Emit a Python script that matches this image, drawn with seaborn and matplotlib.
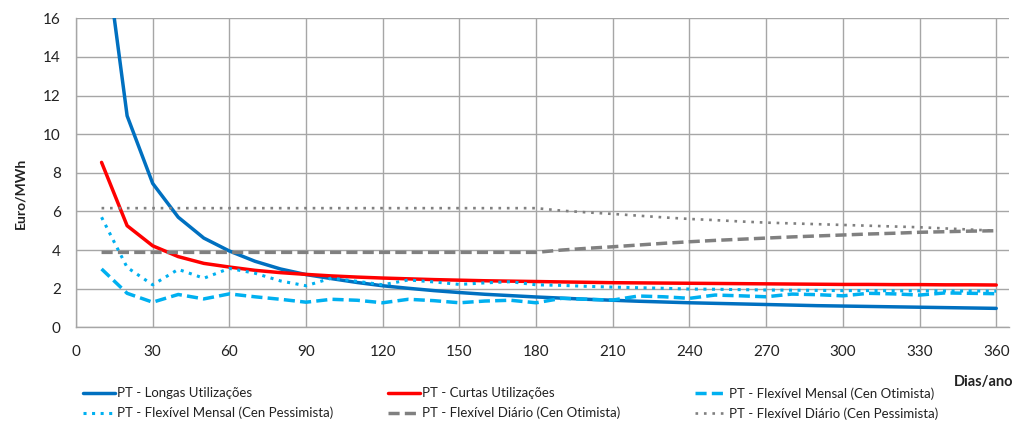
import numpy as np
import pandas as pd
import seaborn as sns
import matplotlib
matplotlib.use("Agg")
import matplotlib.pyplot as plt
from matplotlib.lines import Line2D

# days per year (x categories)
days = [10, 20, 30, 40, 50, 60, 70, 80, 90, 100, 110, 120,
        130, 140, 150, 160, 170, 180, 190, 200, 210, 220, 230, 240,
        250, 260, 270, 280, 290, 300, 310, 320, 330, 340, 350, 360]

longas = [21.0, 10.95, 7.45, 5.70, 4.62, 3.95, 3.42, 3.02, 2.73, 2.52, 2.32, 2.15,
          2.02, 1.90, 1.80, 1.71, 1.64, 1.57, 1.51, 1.45, 1.40, 1.35, 1.31, 1.27,
          1.24, 1.21, 1.18, 1.15, 1.12, 1.10, 1.08, 1.06, 1.04, 1.02, 1.00, 0.98]

curtas = [8.54, 5.26, 4.22, 3.66, 3.31, 3.12, 2.95, 2.83, 2.74, 2.66, 2.60, 2.55,
          2.51, 2.47, 2.44, 2.41, 2.39, 2.37, 2.35, 2.33, 2.31, 2.30, 2.29, 2.28,
          2.27, 2.26, 2.25, 2.24, 2.23, 2.22, 2.22, 2.21, 2.21, 2.20, 2.20, 2.19]

mensal_otim = [3.02, 1.76, 1.30, 1.70, 1.47, 1.73, 1.58, 1.45, 1.30, 1.45, 1.40, 1.27,
               1.45, 1.38, 1.27, 1.36, 1.40, 1.27, 1.50, 1.45, 1.41, 1.62, 1.58, 1.50,
               1.67, 1.63, 1.58, 1.72, 1.69, 1.63, 1.76, 1.73, 1.67, 1.78, 1.76, 1.74]

mensal_pess = [5.70, 3.10, 2.20, 3.00, 2.54, 3.05, 2.80, 2.40, 2.15, 2.55, 2.38, 2.20,
               2.45, 2.35, 2.22, 2.30, 2.36, 2.20, 2.17, 2.12, 2.08, 2.05, 2.02, 1.98,
               1.97, 1.95, 1.93, 1.92, 1.91, 1.90, 1.90, 1.89, 1.89, 1.88, 1.88, 1.87]

diario_otim = [3.88, 3.88, 3.88, 3.88, 3.88, 3.88, 3.88, 3.88, 3.88, 3.88, 3.88, 3.88,
               3.88, 3.88, 3.88, 3.88, 3.88, 3.88, 4.00, 4.09, 4.17, 4.26, 4.35, 4.43,
               4.50, 4.56, 4.62, 4.68, 4.73, 4.78, 4.83, 4.87, 4.92, 4.95, 4.98, 5.00]

diario_pess = [6.17, 6.17, 6.17, 6.17, 6.17, 6.17, 6.17, 6.17, 6.17, 6.17, 6.17, 6.17,
               6.17, 6.17, 6.17, 6.17, 6.17, 6.17, 6.04, 5.95, 5.87, 5.78, 5.69, 5.61,
               5.55, 5.48, 5.42, 5.38, 5.34, 5.30, 5.26, 5.22, 5.18, 5.12, 5.06, 5.00]

labels = ["PT - Longas Utilizações",
          "PT - Curtas Utilizações",
          "PT - Flexível Mensal (Cen Otimista)",
          "PT - Flexível Mensal (Cen Pessimista)",
          "PT - Flexível Diário (Cen Otimista)",
          "PT - Flexível Diário (Cen Pessimista)"]

series = [longas, curtas, mensal_otim, mensal_pess, diario_otim, diario_pess]

sns.set_style("white")
plt.rcParams["font.family"] = ["Lato", "DejaVu Sans"]

# line styles per series: (color, linestyle, width)
styles = [
    ("#0070C0", "-", 2.5),
    ("#FF0000", "-", 2.5),
    ("#00B0F0", (0, (3.2, 1.5)), 2.5),
    ("#00B0F0", (0, (1, 1.8)), 2.2),
    ("#808080", (0, (3.2, 1.5)), 2.5),
    ("#808080", (0, (1, 2.2)), 1.9),
]

fig = plt.figure(figsize=(10.19, 4.24), dpi=100)
ax = fig.add_axes([76 / 1019, 1 - 327.3 / 424, (1009 - 76) / 1019, (327.3 - 18.3) / 424])

handles = []
for vals, lab, (col, ls, lw) in zip(series, labels, styles):
    df = pd.DataFrame({"dias": days, "valor": vals})
    sns.lineplot(data=df, x="dias", y="valor", ax=ax, color=col, linestyle=ls,
                 linewidth=lw, legend=False)
    handles.append(Line2D([], [], color=col, linestyle=ls, linewidth=lw))

ax.set_xlim(0, 365)
ax.set_ylim(0, 16)
ax.set_xticks(np.arange(0, 361, 30))
ax.set_yticks(np.arange(0, 17, 2))
ax.grid(True, color="#a6a6a6", linewidth=1.0)
ax.set_axisbelow(True)
for s in ["top", "right"]:
    ax.spines[s].set_visible(False)
for s in ["left", "bottom"]:
    ax.spines[s].set_color("#a6a6a6")
    ax.spines[s].set_linewidth(1.0)
ax.tick_params(direction="out", length=4, width=1, color="#a6a6a6",
               labelsize=11, labelcolor="#222222", pad=7)
ax.tick_params(axis="x", pad=9)
ax.set_xlabel("")
ax.set_ylabel("")

fig.text(20 / 1019, 1 - 193 / 424, "Euro/MWh", rotation=90, ha="center", va="center",
         fontsize=10, fontweight="bold", color="#222222")
fig.text(984 / 1019, 1 - 382 / 424, "Dias/ano", ha="center", va="center",
         fontsize=10.5, fontweight="bold", color="#222222")

# legend: three columns placed at fixed positions like the original
col_x = [83, 388, 695]
for i, x in enumerate(col_x):
    fig.legend([handles[i], handles[i + 3]], [labels[i], labels[i + 3]],
               loc="center left", bbox_to_anchor=(x / 1019, 1 - 403.4 / 424),
               frameon=False, fontsize=9.5, handlelength=2.4, handletextpad=0.2,
               borderpad=0, borderaxespad=0, labelspacing=0.55,
               labelcolor="#222222")

fig.savefig("out.png", dpi=100)
